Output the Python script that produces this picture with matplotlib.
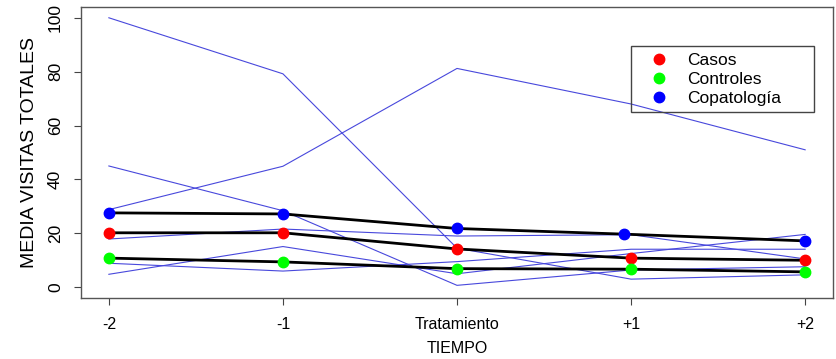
import numpy as np
import matplotlib
import matplotlib.pyplot as plt
from matplotlib.lines import Line2D
from matplotlib.patches import Rectangle

matplotlib.use('Agg')
plt.rcParams['font.family'] = ['Liberation Sans', 'DejaVu Sans']

tiempos = ['-2', '-1', 'Tratamiento', '+1', '+2']
xpos = [1, 2, 3, 4, 5]

# medias por grupo
casos = [20.2, 20.2, 14.2, 10.8, 10.0]
controles = [10.8, 9.4, 6.9, 6.7, 5.7]
copatologia = [27.6, 27.2, 21.8, 19.7, 17.2]
copat_x = [1, 2, 3, 3.96, 5]  # punto +1 algo desplazado en el original

# pacientes individuales (lineas finas azules)
pac_a = [100, 79.2, 14.5, 3.0, 4.6]
pac_b = [45, 28.4, 0.7, 6.4, 7.6]
pac_c = [28.8, 44.9, 81.2, 68, 51]
pac_d = [17.9, 21.6, 19.0, 19.5, 10.5]
pac_e = [8.9, 6.0, 9.5, 14.1, 14.1]
pac_f = [4.8, 15.1, 5.0, 12.5, 19.6]
pacientes = [pac_a, pac_b, pac_c, pac_d, pac_e, pac_f]

grupos = ['Casos', 'Controles', 'Copatología']
colores = ['#ff0000', '#00ff00', '#0000ff']

fig = plt.figure(figsize=(8.36, 3.59), dpi=100)
ax = fig.add_axes([0.0969, 0.1699, 0.8995, 0.8106])

for p in pacientes:
    ax.plot(xpos, p, color='#4848dc', lw=0.8, zorder=2)

ax.plot(xpos, casos, color='black', lw=2, zorder=3)
ax.plot(xpos, controles, color='black', lw=2, zorder=3)
ax.plot(copat_x, copatologia, color='black', lw=2, zorder=3)

ax.plot(xpos, casos, 'o', color=colores[0], ms=7.5, zorder=4)
ax.plot(xpos, controles, 'o', color=colores[1], ms=7.5, zorder=4)
ax.plot(copat_x, copatologia, 'o', color=colores[2], ms=7.5, zorder=4)

ax.set_xlim(0.84, 5.16)
ax.set_ylim(-4, 104)
ax.set_xticks(xpos)
ax.set_xticklabels(tiempos)
ax.set_yticks([0, 20, 40, 60, 80, 100])
ax.set_yticklabels(['0', '20', '40', '60', '80', '100'], rotation=90, va='center')
ax.tick_params(axis='x', labelsize=11.5, length=5, pad=9, color='#444444')
ax.tick_params(axis='y', labelsize=12.5, length=5, pad=8, color='#444444')
for s in ax.spines.values():
    s.set_color('#555555')
    s.set_linewidth(1.0)

ax.set_xlabel('TIEMPO', fontsize=11.5, labelpad=6)
ax.set_ylabel('MEDIA VISITAS TOTALES', fontsize=14, labelpad=7)

# caja de leyenda al estilo de R (mas ancha que el texto, sin relleno)
ax.add_patch(Rectangle((0.7314, 0.640), 0.2433, 0.227, transform=ax.transAxes,
                       fill=False, edgecolor='#444444', lw=1.0, zorder=5))
handles = [Line2D([], [], marker='o', ls='', color=c, ms=7.5) for c in colores]
leg = ax.legend(handles, grupos, loc='upper left', bbox_to_anchor=(0.7575, 0.842),
                fontsize=12.5, frameon=False, borderaxespad=0, borderpad=0,
                handletextpad=1.1, labelspacing=0.22, handlelength=1.0)
leg.set_zorder(6)

fig.savefig('out.png', dpi=100)
